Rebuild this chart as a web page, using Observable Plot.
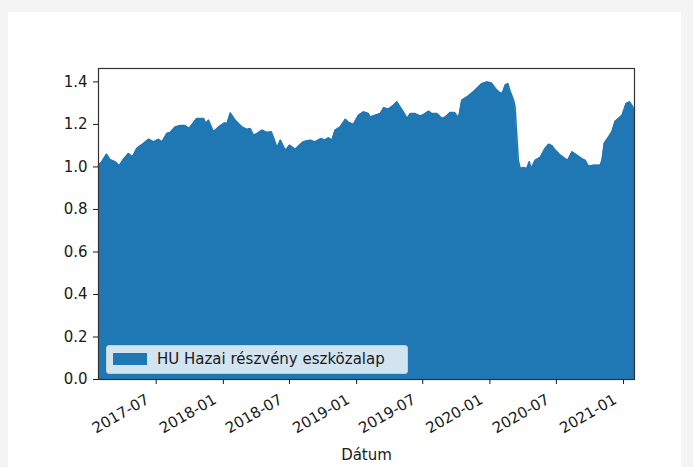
<!DOCTYPE html>
<html><head><meta charset="utf-8">
<script src="https://cdn.jsdelivr.net/npm/d3@7"></script>
<script src="https://cdn.jsdelivr.net/npm/@observablehq/plot@0.6"></script>
<style>
html,body{margin:0;padding:0;background:#f4f4f4;}
#wrap{position:relative;width:693px;height:467px;overflow:hidden;}
#panel{position:absolute;left:8px;top:12px;width:673px;height:460px;background:#fff;}
#chart{position:absolute;left:0;top:0;}
#legend{position:absolute;left:106px;top:345px;width:300px;height:27px;background:rgba(255,255,255,0.8);border:1px solid #cccccc;border-radius:3px;font-family:"DejaVu Sans";font-size:15px;color:#1a1a1a;}
#legend .sw{position:absolute;left:6px;top:7px;width:34px;height:12px;background:#1f77b4;}
#legend .lb{position:absolute;left:50px;top:4px;white-space:nowrap;}
</style></head>
<body><div id="wrap"><div id="panel"></div><div id="chart"></div><div id="legend"><div class="sw"></div><div class="lb"></div></div></div>
<script>
const seriesName = "HU Hazai részvény eszközalap";
const xLabel = "Dátum";
const dates = [
"2017-01-24","2017-02-02","2017-02-15","2017-02-24","2017-03-11","2017-03-22","2017-04-02","2017-04-16","2017-04-27","2017-05-09",
"2017-05-27","2017-06-10","2017-06-24","2017-07-07","2017-07-17","2017-07-30","2017-08-08","2017-08-22","2017-09-05","2017-09-17",
"2017-09-29","2017-10-20","2017-11-08","2017-11-14","2017-11-21","2017-12-05","2017-12-19","2018-01-04","2018-01-11","2018-01-20",
"2018-02-02","2018-02-21","2018-03-06","2018-03-15","2018-03-25","2018-04-03","2018-04-17","2018-04-30","2018-05-12","2018-05-21",
"2018-05-28","2018-06-06","2018-06-15","2018-06-21","2018-07-01","2018-07-17","2018-07-30","2018-08-08","2018-08-27","2018-09-09",
"2018-09-26","2018-10-05","2018-10-16","2018-10-25","2018-11-03","2018-11-17","2018-12-01","2018-12-08","2018-12-23","2019-01-06",
"2019-01-20","2019-02-02","2019-02-07","2019-02-21","2019-03-07","2019-03-16","2019-03-29","2019-04-12","2019-04-21","2019-04-30",
"2019-05-09","2019-05-19","2019-05-28","2019-06-10","2019-06-24","2019-07-03","2019-07-17","2019-07-26","2019-08-09","2019-08-23",
"2019-09-01","2019-09-14","2019-09-26","2019-10-07","2019-10-16","2019-10-30","2019-11-13","2019-11-26","2019-12-10","2019-12-24",
"2020-01-05","2020-01-16","2020-01-25","2020-02-03","2020-02-07","2020-02-12","2020-02-19","2020-02-26","2020-03-06","2020-03-10",
"2020-03-15","2020-03-19","2020-03-24","2020-04-02","2020-04-11","2020-04-18","2020-04-23","2020-05-04","2020-05-18","2020-05-31",
"2020-06-10","2020-06-19","2020-06-28","2020-07-12","2020-07-25","2020-08-01","2020-08-13","2020-08-26","2020-09-09","2020-09-18",
"2020-09-27","2020-10-11","2020-10-29","2020-11-03","2020-11-09","2020-11-21","2020-11-30","2020-12-09","2020-12-18","2020-12-28",
"2021-01-08","2021-01-17","2021-01-24","2021-01-31"];
const values = [
1.008,1.024,1.060,1.035,1.024,1.005,1.035,1.063,1.047,1.087,
1.110,1.130,1.118,1.130,1.118,1.157,1.162,1.188,1.195,1.195,
1.181,1.228,1.228,1.204,1.220,1.165,1.188,1.207,1.204,1.254,
1.220,1.188,1.176,1.181,1.149,1.157,1.173,1.162,1.165,1.126,
1.090,1.126,1.094,1.079,1.102,1.083,1.105,1.118,1.126,1.118,
1.134,1.126,1.137,1.126,1.173,1.188,1.224,1.212,1.200,1.243,
1.259,1.251,1.235,1.243,1.251,1.278,1.272,1.290,1.306,1.282,
1.259,1.228,1.251,1.251,1.240,1.246,1.262,1.251,1.251,1.228,
1.235,1.256,1.256,1.230,1.314,1.329,1.348,1.369,1.392,1.400,
1.395,1.369,1.353,1.345,1.361,1.385,1.392,1.353,1.314,1.282,
1.141,1.031,0.992,0.997,0.992,1.024,0.992,1.031,1.045,1.087,
1.107,1.100,1.079,1.055,1.039,1.031,1.071,1.055,1.039,1.031,
1.003,1.008,1.008,1.031,1.110,1.141,1.165,1.215,1.228,1.243,
1.298,1.306,1.290,1.267];
const xTickLabels = ["2017-07","2018-01","2018-07","2019-01","2019-07","2020-01","2020-07","2021-01"];
const yTicks = [0.0,0.2,0.4,0.6,0.8,1.0,1.2,1.4];
const xDomain = ["2017-01-24","2021-01-31"];
const yDomain = [0, 1.463];

const data = dates.map((d,i)=>({date:new Date(d), value:values[i]}));
const xTicks = xTickLabels.map(s=>new Date(s+"-01"));
document.querySelector("#legend .lb").textContent = seriesName;

const chart = Plot.plot({
  width: 693, height: 467,
  marginLeft: 98, marginRight: 59, marginTop: 68, marginBottom: 88,
  style: {fontFamily: "DejaVu Sans", fontSize: "15px", color: "#1a1a1a", background: "transparent", overflow: "visible"},
  x: {type: "utc", domain: xDomain.map(s=>new Date(s))},
  y: {domain: yDomain},
  marks: [
    Plot.areaY(data, {x: "date", y: "value", fill: "#1f77b4"}),
    Plot.lineY(data, {x: "date", y: "value", stroke: "#1f77b4", strokeWidth: 1.5}),
    Plot.frame({stroke: "#333", strokeWidth: 1.2}),
    Plot.axisY({ticks: yTicks, tickFormat: d3.format(".1f"), tickSize: 5, tickPadding: 6, label: null}),
    Plot.axisX({ticks: xTicks, tickFormat: d => d3.utcFormat("%Y-%m")(d) + "\u00a0\u00a0", tickSize: 5, tickPadding: 9, tickRotate: -30,
      label: xLabel, labelAnchor: "center", labelArrow: "none", labelOffset: 80})
  ]
});
document.getElementById("chart").appendChild(chart);
</script>
</body></html>
